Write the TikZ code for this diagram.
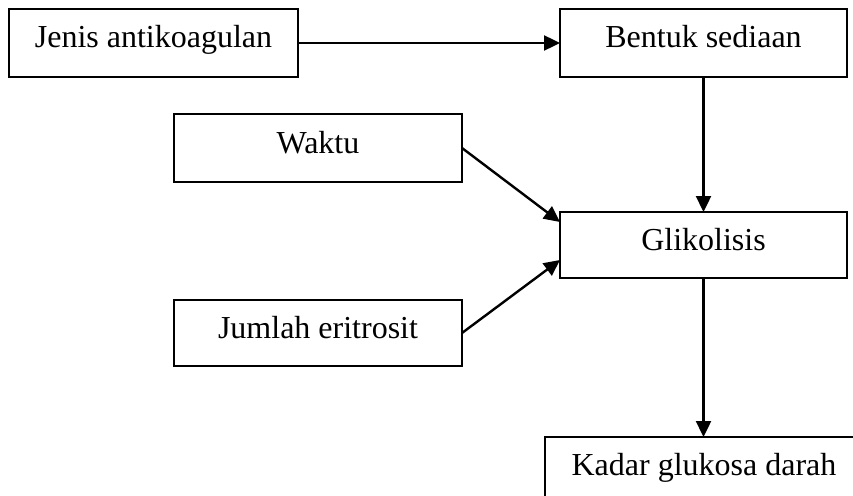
\documentclass[tikz,border=0pt]{standalone}
\usepackage{fontspec}
\setmainfont{Liberation Serif}
\usetikzlibrary{arrows.meta}
\begin{document}
\begin{tikzpicture}[x=1pt,y=-1pt,
  box/.style={draw, line width=2.2pt, inner sep=0pt, outer sep=0pt,
    font=\fontsize{32}{37}\selectfont, text height=22pt, text depth=12pt},
  conn/.style={line width=2.4pt, -{Triangle[length=16pt,width=15pt]}}]
\path[use as bounding box, clip] (0,0) rectangle (853,495);
\node[box, minimum width=289pt, minimum height=68pt] (jenis) at (153.5,43) {Jenis antikoagulan};
\node[box, minimum width=287pt, minimum height=68pt] (bentuk) at (703.5,43) {Bentuk sediaan};
\node[box, minimum width=288pt, minimum height=68pt] (waktu) at (318,148) {Waktu};
\node[box, minimum width=287pt, minimum height=66pt] (glik) at (703.5,245) {Glikolisis};
\node[box, minimum width=288pt, minimum height=66pt] (jumlah) at (318,333) {Jumlah eritrosit};
\node[box, minimum width=318pt, minimum height=66pt] (kadar) at (704,470) {Kadar glukosa darah};
\draw[conn] (jenis.east) -- (bentuk.west);
\draw[conn] (bentuk.south) -- (glik.north);
\draw[conn] (waktu.east) -- ([yshift=23pt]glik.west);
\draw[conn] (jumlah.east) -- ([yshift=-15pt]glik.west);
\draw[conn] (glik.south) -- (glik.south |- kadar.north);
\end{tikzpicture}
\end{document}
